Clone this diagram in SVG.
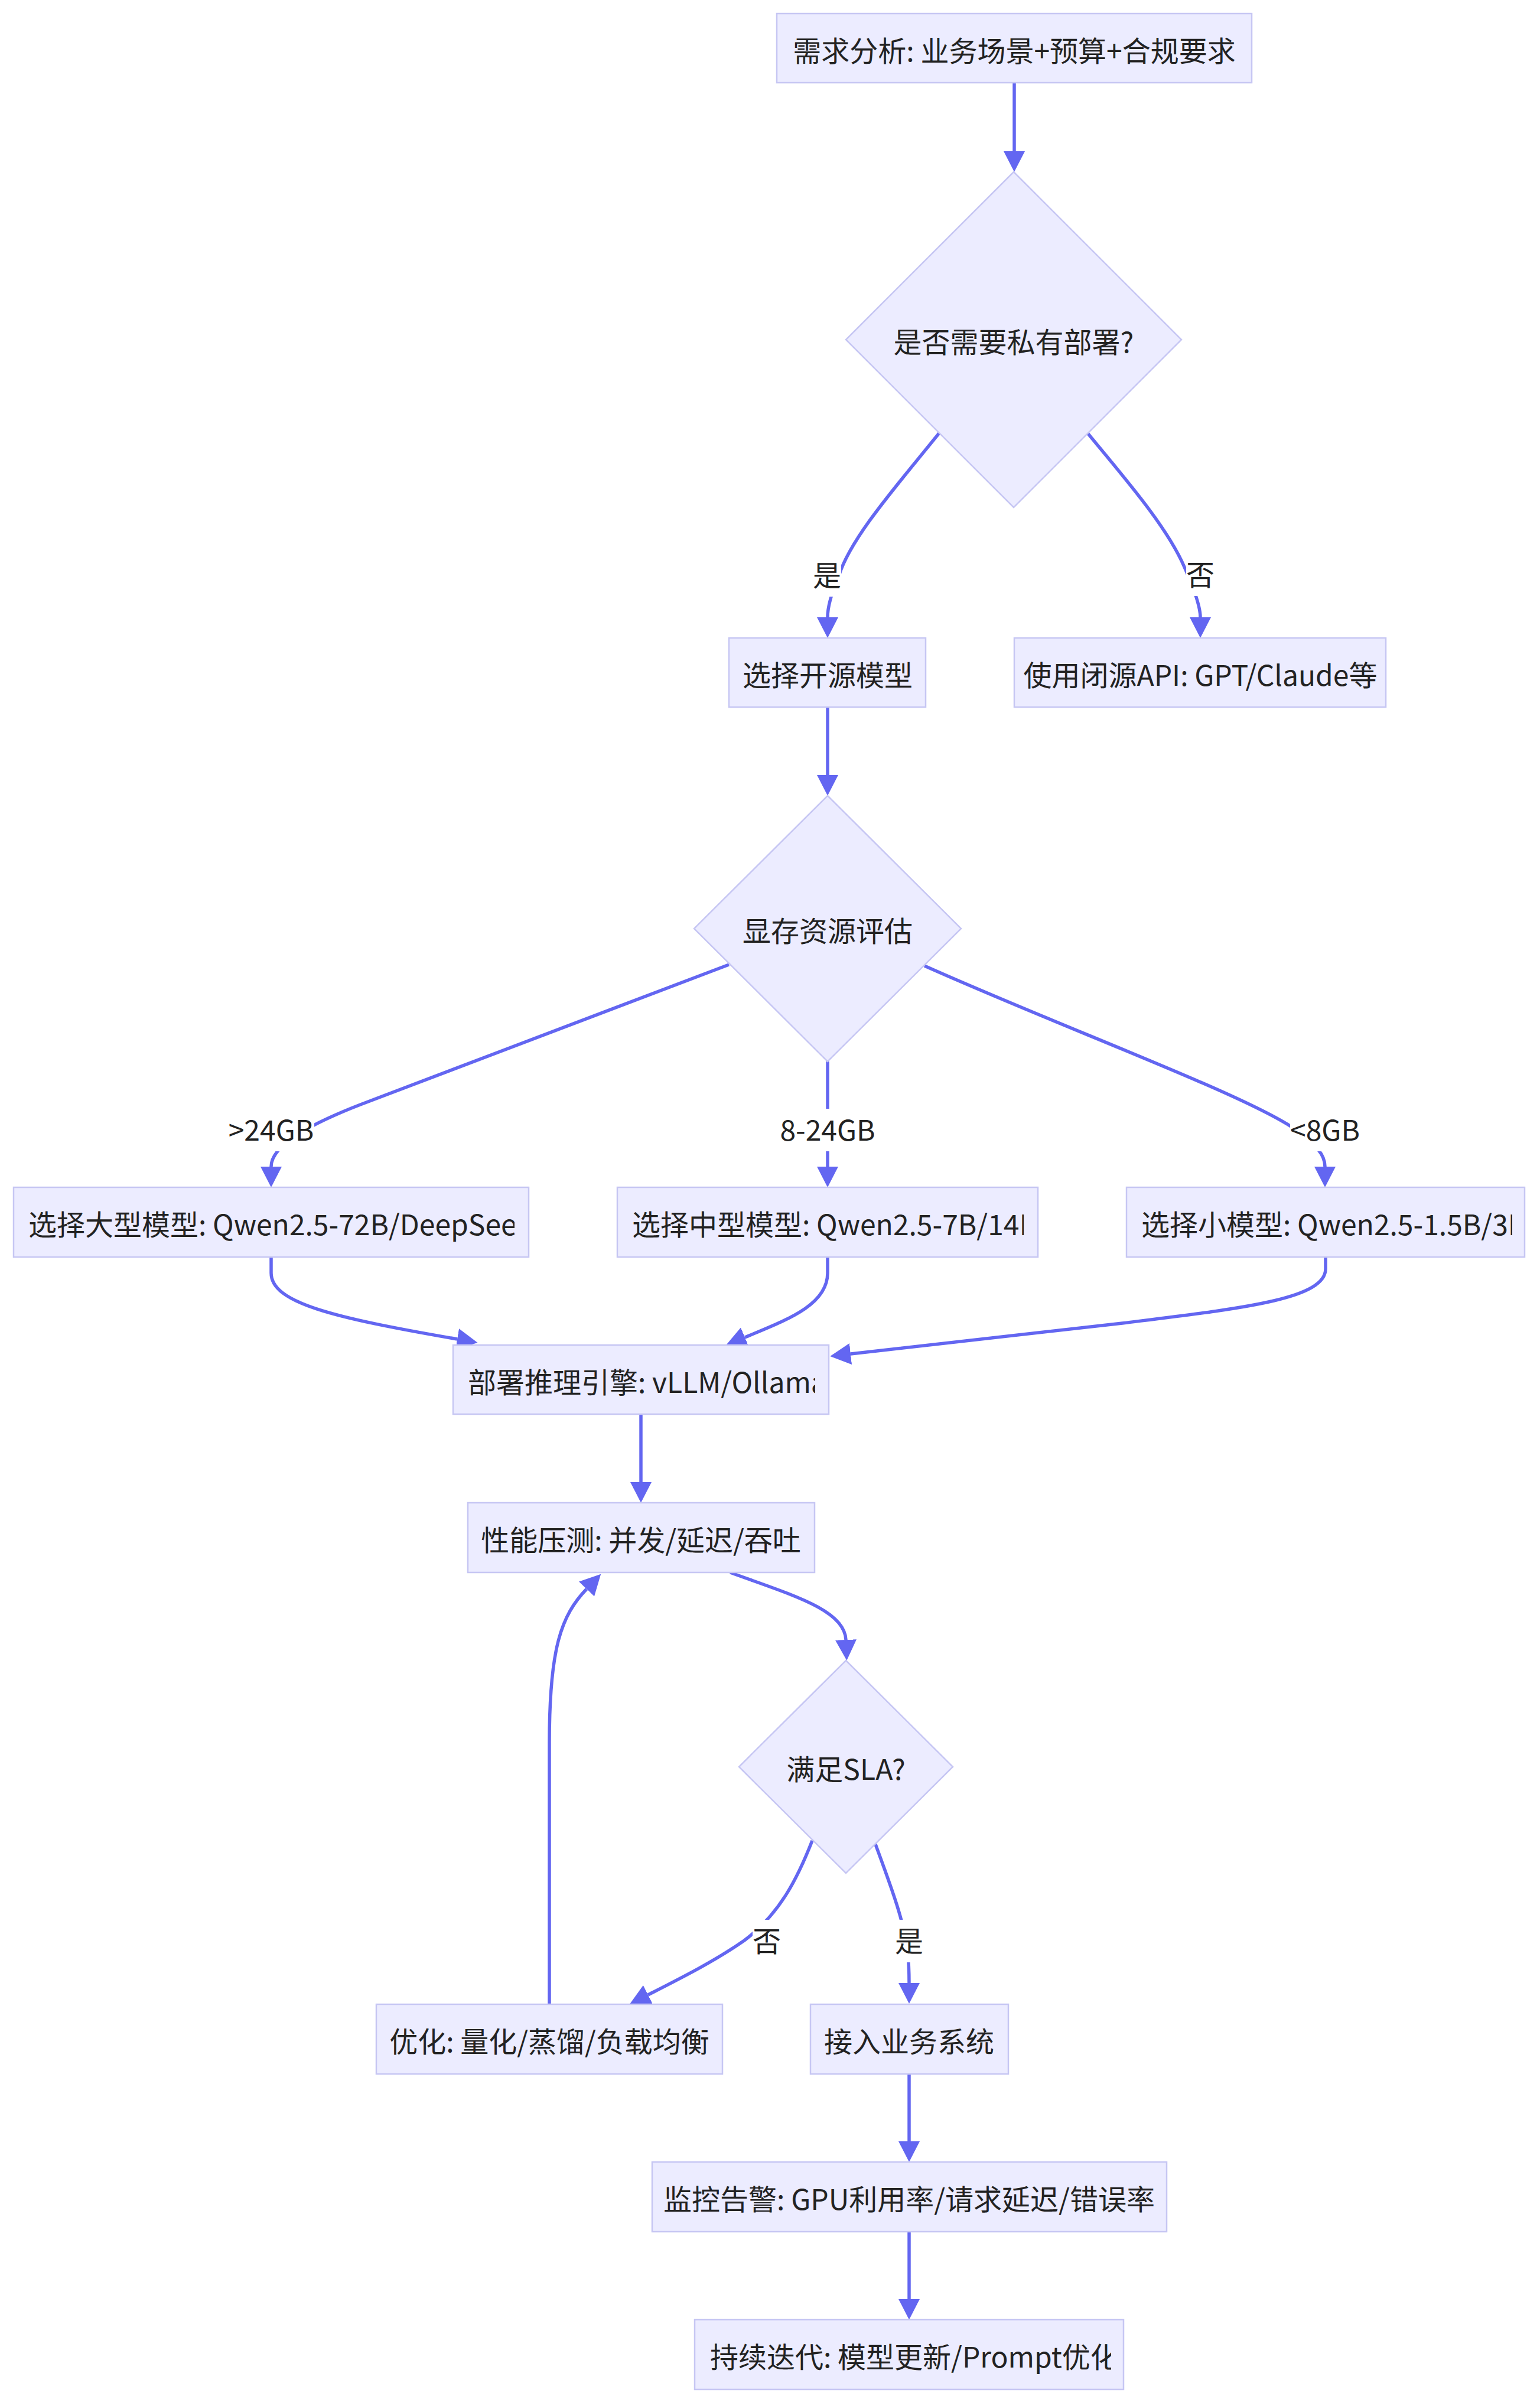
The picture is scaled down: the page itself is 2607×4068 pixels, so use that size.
<svg xmlns="http://www.w3.org/2000/svg" width="2607" height="4068" viewBox="0 0 2607 4068">
<style>
.node rect, .node polygon { fill:#ECECFF; stroke:#C6C6F3; stroke-width:2.5; }
.edge { fill:none; stroke:#6366F1; stroke-width:5.5; }
text { font-family:"Noto Sans CJK SC","Noto Sans",sans-serif; font-size:48px; fill:#222222; }
.c { text-anchor:middle; }
.lbl rect { fill:#FFFFFF; }
</style>
<defs>
<marker id="arrow" viewBox="0 0 35 36" refX="0" refY="18" markerWidth="35" markerHeight="36" markerUnits="userSpaceOnUse" orient="auto">
<path d="M0,0 L35,18 L0,36 z" fill="#6366F1"/>
</marker>
<clipPath id="clipN4"><rect x="23" y="2010" width="848" height="118"/></clipPath>
<clipPath id="clipN5"><rect x="1045" y="2010" width="688" height="118"/></clipPath>
<clipPath id="clipN6"><rect x="1907" y="2010" width="653" height="118"/></clipPath>
<clipPath id="clipN7"><rect x="767" y="2277" width="613" height="118"/></clipPath>
<clipPath id="clipN12"><rect x="1176" y="3927" width="705" height="118"/></clipPath>
</defs>

<g id="edges">
<path class="edge" marker-end="url(#arrow)" d="M1717,140 L1717,256"/>
<path class="edge" marker-end="url(#arrow)" d="M1590,733 C1520,820 1440,910 1420,975 C1405,1010 1401,1030 1401,1045"/>
<path class="edge" marker-end="url(#arrow)" d="M1841,733 C1900,805 1975,890 2005,960 C2025,1005 2032,1030 2032,1045"/>
<path class="edge" marker-end="url(#arrow)" d="M1401,1197 L1401,1312"/>
<path class="edge" marker-end="url(#arrow)" d="M1234,1633 L610,1870 C520,1905 459,1940 459,1975"/>
<path class="edge" marker-end="url(#arrow)" d="M1401,1797 L1401,1975"/>
<path class="edge" marker-end="url(#arrow)" d="M1565,1635 C1800,1740 2100,1850 2190,1910 C2230,1940 2243,1955 2243,1975"/>
<path class="edge" marker-end="url(#arrow)" d="M459,2128 L459,2155 C459,2205 560,2230 774,2267"/>
<path class="edge" marker-end="url(#arrow)" d="M1401,2128 L1401,2155 C1401,2210 1330,2235 1261,2264"/>
<path class="edge" marker-end="url(#arrow)" d="M2244,2128 L2244,2148 C2244,2200 2100,2215 1900,2240 L1440,2292"/>
<path class="edge" marker-end="url(#arrow)" d="M1085,2394 L1085,2509"/>
<path class="edge" marker-end="url(#arrow)" d="M1236,2662 C1340,2700 1430,2725 1432,2776"/>
<path class="edge" marker-end="url(#arrow)" d="M1375,3116 C1350,3180 1320,3240 1260,3285 C1210,3320 1150,3350 1097,3377"/>
<path class="edge" marker-end="url(#arrow)" d="M1482,3122 C1505,3185 1530,3250 1536,3300 C1539,3325 1539,3340 1539,3357"/>
<path class="edge" marker-end="url(#arrow)" d="M930,3393 L930,2950 C930,2790 950,2735 993,2690"/>
<path class="edge" marker-end="url(#arrow)" d="M1539,3511 L1539,3625"/>
<path class="edge" marker-end="url(#arrow)" d="M1539,3778 L1539,3892"/>
</g>

<g id="edge-labels">
<g class="lbl"><rect x="1376" y="938" width="48" height="72"/><text class="c" x="1400" y="992">是</text></g>
<g class="lbl"><rect x="2008" y="937" width="48" height="72"/><text class="c" x="2032" y="991">否</text></g>
<g class="lbl"><rect x="386" y="1877" width="146" height="72"/><text class="c" x="459" y="1931">&gt;24GB</text></g>
<g class="lbl"><rect x="1323" y="1877" width="156" height="72"/><text class="c" x="1401" y="1931">8-24GB</text></g>
<g class="lbl"><rect x="2184" y="1877" width="118" height="72"/><text class="c" x="2243" y="1931">&lt;8GB</text></g>
<g class="lbl"><rect x="1274" y="3250" width="48" height="72"/><text class="c" x="1298" y="3304">否</text></g>
<g class="lbl"><rect x="1515" y="3250" width="48" height="72"/><text class="c" x="1539" y="3304">是</text></g>
</g>

<g id="N1" class="node"><rect x="1315" y="23" width="804" height="117"/><text class="c" x="1717" y="104">需求分析: 业务场景+预算+合规要求</text></g>
<g id="D1" class="node"><polygon points="1716,291 2000,575 1716,859 1432,575"/><text class="c" x="1716" y="597">是否需要私有部署?</text></g>
<g id="N2" class="node"><rect x="1234" y="1080" width="333" height="117"/><text class="c" x="1401" y="1161">选择开源模型</text></g>
<g id="N3" class="node"><rect x="1717" y="1080" width="629" height="117"/><text class="c" x="2032" y="1161">使用闭源API: GPT/Claude等</text></g>
<g id="D2" class="node"><polygon points="1401,1347 1627,1572 1401,1797 1175,1572"/><text class="c" x="1401" y="1594">显存资源评估</text></g>
<g id="N4" class="node"><rect x="23" y="2010" width="872" height="118"/><text x="48" y="2091" clip-path="url(#clipN4)">选择大型模型: Qwen2.5-72B/DeepSee</text></g>
<g id="N5" class="node"><rect x="1045" y="2010" width="712" height="118"/><text x="1070" y="2091" clip-path="url(#clipN5)">选择中型模型: Qwen2.5-7B/14B</text></g>
<g id="N6" class="node"><rect x="1907" y="2010" width="674" height="118"/><text x="1932" y="2091" clip-path="url(#clipN6)">选择小模型: Qwen2.5-1.5B/3B</text></g>
<g id="N7" class="node"><rect x="767" y="2277" width="636" height="117"/><text x="792" y="2358" clip-path="url(#clipN7)">部署推理引擎: vLLM/Ollama</text></g>
<g id="N8" class="node"><rect x="792" y="2544" width="587" height="118"/><text class="c" x="1085" y="2625">性能压测: 并发/延迟/吞吐</text></g>
<g id="D3" class="node"><polygon points="1432,2811 1613,2991 1432,3171 1251,2991"/><text class="c" x="1432" y="3013">满足SLA?</text></g>
<g id="N9" class="node"><rect x="637" y="3393" width="586" height="118"/><text class="c" x="930" y="3474">优化: 量化/蒸馏/负载均衡</text></g>
<g id="N10" class="node"><rect x="1372" y="3393" width="335" height="118"/><text class="c" x="1539" y="3474">接入业务系统</text></g>
<g id="N11" class="node"><rect x="1104" y="3660" width="871" height="118"/><text class="c" x="1539" y="3741">监控告警: GPU利用率/请求延迟/错误率</text></g>
<g id="N12" class="node"><rect x="1176" y="3927" width="726" height="118"/><text x="1202" y="4008" clip-path="url(#clipN12)">持续迭代: 模型更新/Prompt优化</text></g>
</svg>
